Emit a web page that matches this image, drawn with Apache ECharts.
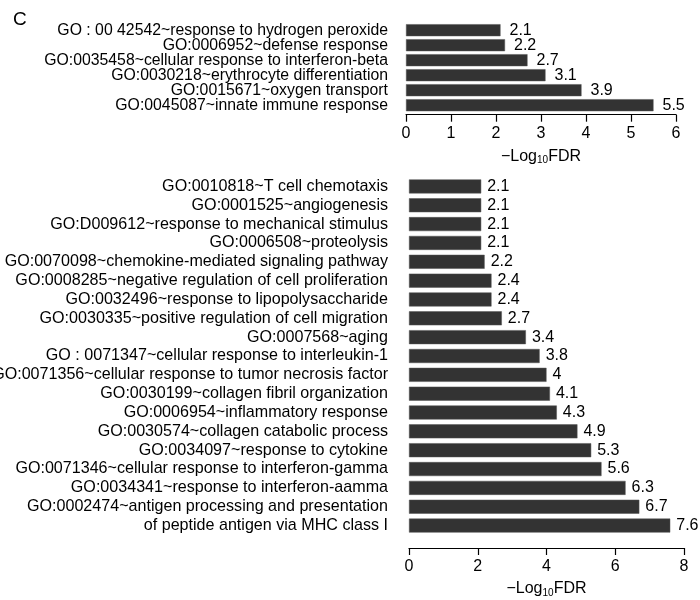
<!DOCTYPE html>
<html>
<head>
<meta charset="utf-8">
<script src="https://cdn.jsdelivr.net/npm/echarts@6/dist/echarts.min.js"></script>
<style>
  html, body { margin: 0; padding: 0; background: #fff; }
  #chart { width: 700px; height: 600px; }
</style>
</head>
<body>
<div id="chart"></div>
<script>
// top panel terms (top to bottom)
const topTerms = [
  'GO : 00 42542~response to hydrogen peroxide',
  'GO:0006952~defense response',
  'GO:0035458~cellular response to interferon-beta',
  'GO:0030218~erythrocyte differentiation',
  'GO:0015671~oxygen transport',
  'GO:0045087~innate immune response'
]
const topValues = [2.1, 2.2, 2.7, 3.1, 3.9, 5.5]
const topTicks = [0, 1, 2, 3, 4, 5, 6]

// bottom panel terms (top to bottom)
const bottomTerms = [
  'GO:0010818~T cell chemotaxis',
  'GO:0001525~angiogenesis',
  'GO:D009612~response to mechanical stimulus',
  'GO:0006508~proteolysis',
  'GO:0070098~chemokine-mediated signaling pathway',
  'GO:0008285~negative regulation of cell proliferation',
  'GO:0032496~response to lipopolysaccharide',
  'GO:0030335~positive regulation of cell migration',
  'GO:0007568~aging',
  'GO : 0071347~cellular response to interleukin-1',
  'GO:0071356~cellular response to tumor necrosis factor',
  'GO:0030199~collagen fibril organization',
  'GO:0006954~inflammatory response',
  'GO:0030574~collagen catabolic process',
  'GO:0034097~response to cytokine',
  'GO:0071346~cellular response to interferon-gamma',
  'GO:0034341~response to interferon-aamma',
  'GO:0002474~antigen processing and presentation',
  'of peptide antigen via MHC class I'
]
const bottomValues = [2.1, 2.1, 2.1, 2.1, 2.2, 2.4, 2.4, 2.7, 3.4, 3.8, 4, 4.1, 4.3, 4.9, 5.3, 5.6, 6.3, 6.7, 7.6]
const bottomTicks = [0, 2, 4, 6, 8]

const font = 'Liberation Sans, Arial, sans-serif'
const barColor = '#333333'

const axisName = {
  formatter: '{a|\u2212Log}{s|10}{a|FDR}',
  rich: {
    a: { fontSize: 16, fontFamily: font, color: '#000' },
    s: { fontSize: 10, fontFamily: font, color: '#000', verticalAlign: 'bottom', padding: [8, 0, 0, 0] }
  }
}

const makeX = (gridIndex, ticks, offset, nameGap) => ({
  type: 'value',
  gridIndex,
  min: ticks[0],
  max: ticks[ticks.length - 1],
  interval: ticks[1] - ticks[0],
  offset,
  name: axisName.formatter,
  nameLocation: 'middle',
  nameGap,
  nameTextStyle: { rich: axisName.rich },
  splitLine: { show: false },
  axisLine: { show: true, lineStyle: { color: '#000', width: 1.2 } },
  axisTick: { show: true, length: 7, lineStyle: { color: '#000', width: 1.2 } },
  axisLabel: { fontSize: 16, fontFamily: font, color: '#000', margin: 11 }
})

const makeY = (gridIndex, terms, fontSize, margin) => ({
  type: 'category',
  gridIndex,
  data: terms,
  inverse: true,
  axisLine: { show: false },
  axisTick: { show: false },
  axisLabel: { fontSize, fontFamily: font, color: '#000', margin, interval: 0 }
})

const makeBar = (idx, values, barWidth, dist) => ({
  type: 'bar',
  xAxisIndex: idx,
  yAxisIndex: idx,
  data: values,
  barWidth,
  itemStyle: { color: barColor, borderColor: '#555', borderWidth: 0.5 },
  label: {
    show: true,
    position: 'right',
    distance: dist,
    fontSize: 16,
    fontFamily: font,
    color: '#000'
  },
  silent: true
})

const chart = echarts.init(document.getElementById('chart'), null, { renderer: 'canvas' })
chart.setOption({
  animation: false,
  backgroundColor: '#fff',
  title: {
    text: 'C',
    left: 8,
    top: 5,
    textStyle: { fontSize: 19, fontWeight: 'normal', fontFamily: font, color: '#000' }
  },
  grid: [
    { left: 406, right: 24, top: 22.7, height: 90, containLabel: false, outerBoundsMode: 'none' },
    { left: 409, right: 16, top: 177, height: 358, containLabel: false, outerBoundsMode: 'none' }
  ],
  xAxis: [
    makeX(0, topTicks, 2, 33),
    makeX(1, bottomTicks, 13, 32)
  ],
  yAxis: [
    makeY(0, topTerms, 15.8, 18),
    makeY(1, bottomTerms, 16.1, 21)
  ],
  series: [
    makeBar(0, topValues, 12, 9),
    makeBar(1, bottomValues, 14, 6)
  ]
})
</script>
</body>
</html>
